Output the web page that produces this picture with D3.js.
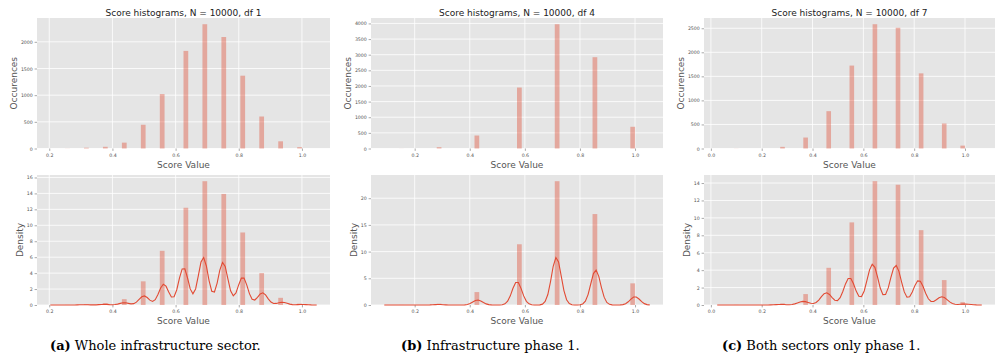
<!DOCTYPE html>
<html>
<head>
<meta charset="utf-8">
<script src="https://cdn.jsdelivr.net/npm/d3@7"></script>
<style>
  body { margin: 0; background: #ffffff; }
  svg { display: block; }
</style>
</head>
<body>
<svg id="fig" width="995" height="361"></svg>
<script>
// Discrete score values and the number of the 10000 samples that landed on each
const scoresA = [0.25, 0.3125, 0.375, 0.4375, 0.5, 0.5625, 0.625, 0.6875, 0.75, 0.8125, 0.875, 0.9375, 1.0];
const countsA = [2, 15, 32, 110, 445, 1020, 1830, 2330, 2090, 1365, 600, 135, 26];

const scoresB = [0.1429, 0.2857, 0.4286, 0.5714, 0.7143, 0.8571, 1.0];
const countsB = [2, 43, 415, 1950, 3975, 2920, 695];

const scoresC = [0.0909, 0.2727, 0.3636, 0.4545, 0.5455, 0.6364, 0.7273, 0.8182, 0.9091, 1.0];
const countsC = [2, 34, 228, 776, 1724, 2584, 2510, 1562, 520, 60];

const sampleSize = 10000;
const dfValues = [1, 4, 7];

const captionTags = ["(a)", "(b)", "(c)"];
const captionTexts = ["Whole infrastructure sector.", "Infrastructure phase 1.", "Both sectors only phase 1."];

// Tick values
const xTicksA = [0.2, 0.4, 0.6, 0.8, 1.0];
const xTicksB = [0.2, 0.4, 0.6, 0.8, 1.0];
const xTicksC = [0.0, 0.2, 0.4, 0.6, 0.8, 1.0];
const countTicksA = [0, 500, 1000, 1500, 2000];
const countTicksB = [0, 500, 1000, 1500, 2000, 2500, 3000, 3500, 4000];
const countTicksC = [0, 500, 1000, 1500, 2000, 2500];
const densityTicksA = [0, 2, 4, 6, 8, 10, 12, 14, 16];
const densityTicksB = [0, 5, 10, 15, 20];
const densityTicksC = [0, 2, 4, 6, 8, 10, 12, 14];

// ---- layout ----
const columnX = [[37, 330], [371, 663], [704, 995]];
const rowY = [[18, 148.5], [175, 305]];
const NBINS = 50;
const C_BAR = "#E24A33";
const FONT = "'DejaVu Sans', sans-serif";

const panels = [
  { scores: scoresA, counts: countsA, xTicks: xTicksA, cTicks: countTicksA, dTicks: densityTicksA },
  { scores: scoresB, counts: countsB, xTicks: xTicksB, cTicks: countTicksB, dTicks: densityTicksB },
  { scores: scoresC, counts: countsC, xTicks: xTicksC, cTicks: countTicksC, dTicks: densityTicksC }
];

// Normal-reference bandwidth: 1.059 * min(std, IQR/1.349) * n^(-1/5)
function bandwidth(vals, cnts) {
  const n = d3.sum(cnts);
  const mean = d3.sum(vals, (v, i) => v * cnts[i]) / n;
  const variance = d3.sum(vals, (v, i) => cnts[i] * (v - mean) ** 2) / (n - 1);
  const sd = Math.sqrt(variance);
  const quant = q => {
    const pos = q * (n - 1);
    const at = k => { let acc = 0; for (let i = 0; i < vals.length; i++) { acc += cnts[i]; if (k < acc) return vals[i]; } return vals[vals.length - 1]; };
    const lo = Math.floor(pos), fr = pos - lo;
    return at(lo) * (1 - fr) + at(lo + 1) * fr;
  };
  const iqr = quant(0.75) - quant(0.25);
  return 1.059 * Math.min(sd, iqr / 1.349) * Math.pow(n, -0.2);
}

const svg = d3.select("#fig");

panels.forEach((p, col) => {
  const n = d3.sum(p.counts);
  const vMin = d3.min(p.scores), vMax = d3.max(p.scores);
  const binW = (vMax - vMin) / NBINS;

  // histogram bins (50 equal bins between min and max)
  const bars = p.scores.map((v, i) => {
    const idx = Math.min(NBINS - 1, Math.floor((v - vMin) / binW + 0.05));
    const x0 = vMin + idx * binW;
    return { x0, x1: x0 + binW, count: p.counts[i], density: p.counts[i] / (n * binW) };
  });

  // gaussian kernel density estimate
  const h = bandwidth(p.scores, p.counts);
  const lo = vMin - 3 * h, hi = vMax + 3 * h;
  const grid = d3.range(100).map(k => lo + (hi - lo) * k / 99);
  const kde = grid.map(x => ({
    x,
    y: d3.sum(p.scores, (v, i) => p.counts[i] * Math.exp(-0.5 * ((x - v) / h) ** 2)) / (n * h * Math.sqrt(2 * Math.PI))
  }));

  const span = hi - lo;
  const x = d3.scaleLinear().domain([lo - 0.05 * span, hi + 0.05 * span]).range(columnX[col]);

  [0, 1].forEach(row => {
    const [top, bottom] = rowY[row];
    const [left, right] = columnX[col];
    const isDensity = row === 1;
    const val = d => isDensity ? d.density : d.count;
    const yMax = isDensity ? Math.max(d3.max(bars, val), d3.max(kde, d => d.y)) : d3.max(bars, val);
    const y = d3.scaleLinear().domain([0, yMax * 1.05]).range([bottom, top]);
    const yTicks = isDensity ? p.dTicks : p.cTicks;

    const g = svg.append("g");
    g.append("rect").attr("x", left).attr("y", top)
      .attr("width", right - left).attr("height", bottom - top).attr("fill", "#E5E5E5");

    // grid
    g.selectAll(".gx").data(p.xTicks).join("line")
      .attr("x1", d => x(d)).attr("x2", d => x(d)).attr("y1", top).attr("y2", bottom)
      .attr("stroke", "#ffffff").attr("stroke-width", 0.8);
    g.selectAll(".gy").data(yTicks).join("line")
      .attr("x1", left).attr("x2", right).attr("y1", d => y(d)).attr("y2", d => y(d))
      .attr("stroke", "#ffffff").attr("stroke-width", 0.8);

    // axes
    const xAxis = g.append("g").attr("transform", `translate(0,${bottom})`)
      .call(d3.axisBottom(x).tickValues(p.xTicks).tickFormat(d3.format(".1f")).tickSize(2.4).tickPadding(2.5));
    const yAxis = g.append("g").attr("transform", `translate(${left},0)`)
      .call(d3.axisLeft(y).tickValues(yTicks).tickFormat(d3.format("d")).tickSize(2.4).tickPadding(1.8));
    [xAxis, yAxis].forEach(a => {
      a.select(".domain").remove();
      a.selectAll(".tick line").attr("stroke", "#555").attr("stroke-width", 0.5);
      a.selectAll(".tick text").attr("fill", "#555").style("font-family", FONT).style("font-size", "4.7px");
    });

    // bars
    g.selectAll(".bar").data(bars).join("rect")
      .attr("x", d => x(d.x0)).attr("width", d => x(d.x1) - x(d.x0))
      .attr("y", d => y(val(d))).attr("height", d => bottom - y(val(d)))
      .attr("fill", C_BAR).attr("fill-opacity", 0.4);

    if (isDensity) {
      g.append("path").datum(kde)
        .attr("d", d3.line().x(d => x(d.x)).y(d => y(d.y)))
        .attr("fill", "none").attr("stroke", C_BAR).attr("stroke-width", 1.1);
    }

    // y label placed just left of the widest tick label
    let minX = left;
    yAxis.selectAll(".tick text").each(function () {
      const b = this.getBBox();
      minX = Math.min(minX, left + b.x);
    });
    svg.append("text")
      .attr("transform", `translate(${minX - 4.3},${(top + bottom) / 2}) rotate(-90)`)
      .attr("text-anchor", "middle")
      .attr("fill", "#555").style("font-family", FONT).style("font-size", "9px")
      .text(isDensity ? "Density" : "Occurences");

    svg.append("text")
      .attr("x", (left + right) / 2).attr("y", bottom + 19)
      .attr("text-anchor", "middle")
      .attr("fill", "#555").style("font-family", FONT).style("font-size", "9px")
      .text("Score Value");

    if (!isDensity) {
      svg.append("text")
        .attr("x", (left + right) / 2).attr("y", 15.5)
        .attr("text-anchor", "middle")
        .attr("fill", "#222").style("font-family", FONT).style("font-size", "9px")
        .text(`Score histograms, N = ${sampleSize}, df ${dfValues[col]}`);
    }
  });
});

// sub-figure captions
const captionX = [50, 401, 722];
captionTags.forEach((tag, i) => {
  const t = svg.append("text")
    .attr("x", captionX[i]).attr("y", 350)
    .style("font-family", "'DejaVu Serif', 'Liberation Serif', serif").style("font-size", "13px")
    .attr("fill", "#000");
  t.append("tspan").attr("font-weight", "bold").text(tag);
  t.append("tspan").text(" " + captionTexts[i]);
});
</script>
</body>
</html>
